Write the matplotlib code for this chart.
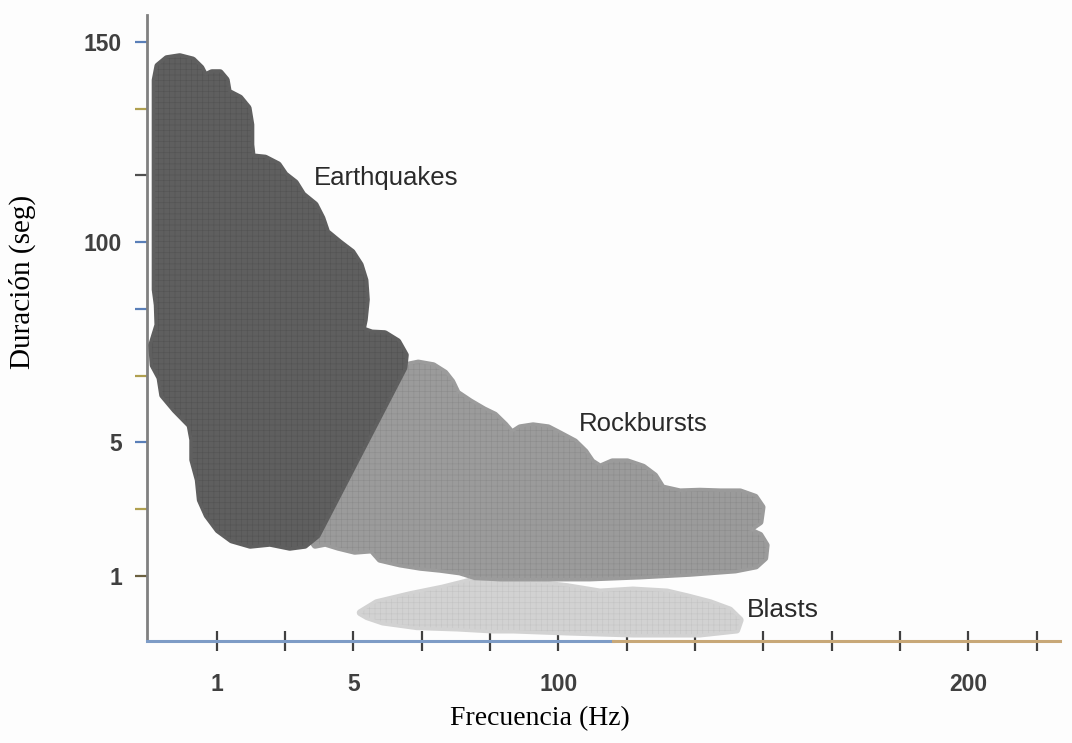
import matplotlib
matplotlib.use("Agg")
import matplotlib.pyplot as plt
from matplotlib.patches import Polygon

# tick positions along each axis (evenly spaced, only some are labelled)
x_ticks = list(range(13))
x_labels = ["1", "", "5", "", "", "100", "", "", "", "", "", "200", ""]
y_ticks = list(range(9))
y_labels = ["1", "", "5", "", "", "100", "", "", "150"]
y_tick_colors = ["#6b6040", "#b0a050", "#5a7fb8", "#b0a050", "#5a7fb8",
                 "#5a7fb8", "#505050", "#b0a050", "#5a7fb8"]

# region outlines (x = frequency tick index, y = duration tick index)
quake_x = [-0.90, -0.86, -0.73, -0.54, -0.35, -0.23, -0.17, -0.07, 0.05, 0.14, 0.17, 0.34,
           0.46, 0.50, 0.50, 0.52, 0.71, 0.90, 1.00, 1.15, 1.26, 1.44, 1.54, 1.61, 1.80,
           1.98, 2.10, 2.17, 2.19, 2.16, 2.13, 2.27, 2.46, 2.65, 2.76, 2.74, 1.47, 1.29,
           1.07, 0.78, 0.49, 0.22, 0.02, -0.14, -0.24, -0.27, -0.35, -0.35, -0.39, -0.61,
           -0.79, -0.83, -0.93, -0.95, -0.86, -0.87, -0.90, -0.90, -0.90]
quake_y = [7.43, 7.64, 7.75, 7.78, 7.73, 7.61, 7.49, 7.54, 7.54, 7.43, 7.25, 7.16,
           7.01, 6.76, 6.46, 6.28, 6.26, 6.16, 6.01, 5.89, 5.71, 5.56, 5.36, 5.15, 4.99,
           4.85, 4.66, 4.43, 4.14, 3.84, 3.69, 3.64, 3.63, 3.51, 3.31, 3.12, 0.61, 0.46,
           0.43, 0.49, 0.46, 0.54, 0.69, 0.91, 1.14, 1.44, 1.74, 2.04, 2.26, 2.49,
           2.71, 2.97, 3.16, 3.46, 3.76, 4.06, 4.29, 5.63, 6.83]

rock_x = [2.68, 2.76, 2.95, 3.17, 3.34, 3.44, 3.52, 3.71, 3.91, 4.07, 4.22, 4.32, 4.44,
          4.63, 4.85, 5.02, 5.24, 5.39, 5.49, 5.61, 5.79, 6.01, 6.24, 6.41, 6.52, 6.78,
          7.07, 7.37, 7.66, 7.88, 7.98, 7.95, 7.78, 7.95, 8.04, 8.02, 7.89, 7.59, 6.93,
          6.20, 5.46, 4.73, 4.15, 3.78, 3.56, 3.27, 2.98, 2.68, 2.39, 2.27, 2.02, 1.78,
          1.59, 1.44, 1.37, 2.61]
rock_y = [3.09, 3.15, 3.19, 3.15, 3.04, 2.91, 2.74, 2.61, 2.49, 2.41, 2.26, 2.14, 2.22,
          2.25, 2.22, 2.13, 2.01, 1.86, 1.71, 1.63, 1.71, 1.71, 1.63, 1.50, 1.32, 1.26,
          1.27, 1.26, 1.26, 1.18, 1.03, 0.81, 0.69, 0.61, 0.46, 0.27, 0.15, 0.09, 0.04,
          0.00, -0.03, -0.03, -0.03, -0.01, 0.06, 0.10, 0.13, 0.18, 0.25, 0.39, 0.37, 0.43,
          0.49, 0.46, 0.57, 3.06]

blast_x = [2.10, 2.34, 2.83, 3.31, 3.66, 3.96, 4.25, 4.63, 5.13, 5.61, 6.09, 6.59, 6.88,
           7.22, 7.51, 7.66, 7.61, 7.07, 6.09, 5.13, 4.34, 4.04, 3.52, 2.93, 2.43, 2.20]
blast_y = [-0.55, -0.40, -0.28, -0.18, -0.09, -0.01, -0.03, -0.10, -0.16, -0.24, -0.21,
           -0.24, -0.31, -0.40, -0.51, -0.66, -0.81, -0.87, -0.87, -0.84, -0.81, -0.81,
           -0.78, -0.76, -0.69, -0.61]

plt.rcParams['hatch.linewidth'] = 0.4

fig = plt.figure(figsize=(10.72, 7.43), dpi=100)
fig.patch.set_facecolor("#fdfdfd")
ax = fig.add_axes([0.1371, 0.1373, 0.8517, 0.8425])
ax.set_facecolor("#fdfdfd")
ax.set_xlim(-1.02, 12.34)
ax.set_ylim(-0.974, 8.404)

regions = [(blast_x, blast_y, "#d2d2d2", "#c4c4c4", 2),
           (rock_x, rock_y, "#9b9b9b", "#8c8c8c", 3),
           (quake_x, quake_y, "#5f5f5f", "#535353", 4)]
for xs, ys, col, hcol, z in regions:
    pts = list(zip(xs, ys))
    ax.add_patch(Polygon(pts, closed=True, facecolor=col, edgecolor=col, lw=5,
                         joinstyle="round", zorder=z))
    ax.add_patch(Polygon(pts, closed=True, fill=False, hatch="+++", edgecolor=hcol,
                         lw=0, zorder=z))

ax.text(2.48, 5.96, "Earthquakes", fontsize=18.5, family="Liberation Sans",
        color="#2a2a2a", ha="center", va="center", zorder=6)
ax.text(6.24, 2.28, "Rockbursts", fontsize=18.5, family="Liberation Sans",
        color="#2a2a2a", ha="center", va="center", zorder=6)
ax.text(8.29, -0.51, "Blasts", fontsize=19, family="Liberation Sans",
        color="#2a2a2a", ha="center", va="center", zorder=6)

# axes lines
for s in ["top", "right", "bottom"]:
    ax.spines[s].set_visible(False)
ax.spines["left"].set_color("#808080")
ax.spines["left"].set_linewidth(2)
ax.axhline(-0.974, xmin=0, xmax=0.51, color="#7e9cc6", lw=2.2, zorder=5, clip_on=False)
ax.axhline(-0.974, xmin=0.51, xmax=1, color="#c8a878", lw=2.2, zorder=5, clip_on=False)

ax.set_xticks(x_ticks)
ax.set_xticklabels(x_labels)
ax.set_yticks(y_ticks)
ax.set_yticklabels(y_labels)
ax.tick_params(axis="x", direction="inout", length=14, width=1.6, color="#404040",
               pad=16, labelsize=16.5, labelcolor="#404040")
ax.tick_params(axis="y", direction="out", length=9, width=1.6,
               pad=9, labelsize=16.5, labelcolor="#404040")
for tick, c in zip(ax.yaxis.get_major_ticks(), y_tick_colors):
    tick.tick1line.set_color(c)
    tick.tick1line.set_markeredgecolor(c)
for lab in ax.get_xticklabels() + ax.get_yticklabels():
    lab.set_fontweight("bold")
    lab.set_family("Liberation Sans")

fig.text(0.504, 0.033, "Frecuencia (Hz)", fontsize=20, family="Liberation Serif",
         ha="center", va="center")
fig.text(0.021, 0.62, "Duración (seg)", fontsize=21, family="Liberation Serif",
         ha="center", va="center", rotation=90)

fig.savefig("out.png", dpi=100, facecolor=fig.get_facecolor())
